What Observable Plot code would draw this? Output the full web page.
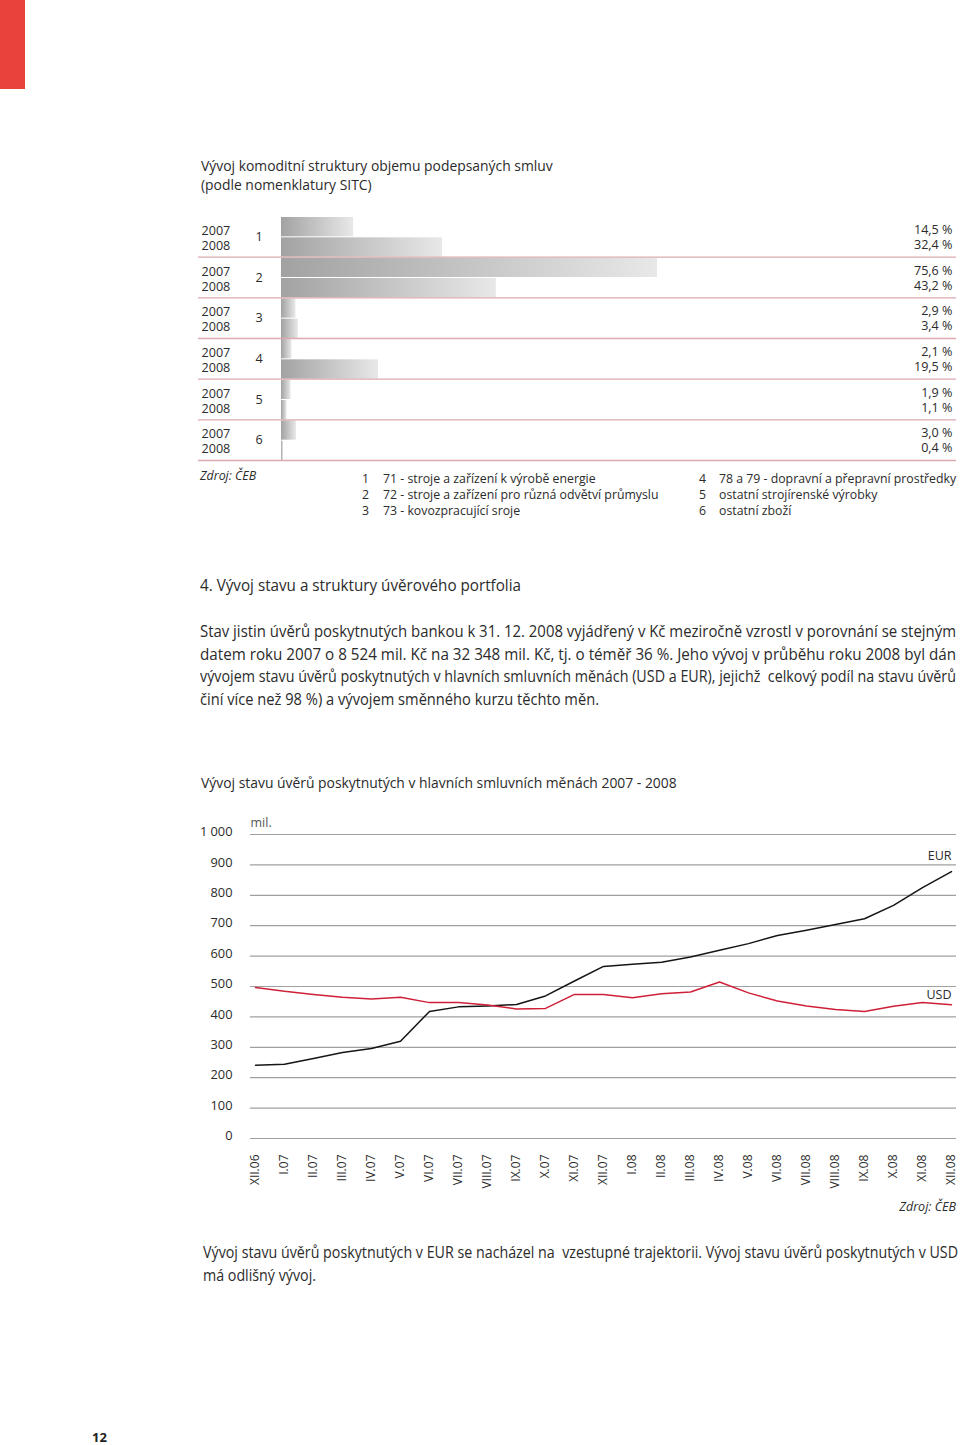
<!DOCTYPE html>
<html><head><meta charset="utf-8">
<script src="https://cdn.jsdelivr.net/npm/d3@7"></script>
<script src="https://cdn.jsdelivr.net/npm/@observablehq/plot@0.6"></script>
<style>
body{margin:0;background:#fff;font-family:"Open Sans",sans-serif;color:#2b2b2b;}
#page{position:relative;width:960px;height:1445px;overflow:hidden;background:#fff;}
.abs{position:absolute;white-space:nowrap;}
.fit{position:absolute;white-space:nowrap;transform-origin:0 50%;}
#red{position:absolute;left:0;top:0;width:25px;height:89px;background:#e8423a;}
</style></head><body><div id="page">
<div id="red"></div>
<div class="abs" style="left:201px;top:156px;font-size:13.9px;line-height:19px;">Vývoj komoditní struktury objemu podepsaných smluv<br>(podle nomenklatury SITC)</div>
<div id="chart1"></div>
<div class="abs" style="left:201px;top:773px;font-size:13.9px;line-height:20px;">Vývoj stavu úvěrů poskytnutých v hlavních smluvních měnách 2007 - 2008</div>
<div id="chart2"></div>
<div class="abs" style="right:4px;top:1198px;font-size:12.5px;line-height:18px;font-style:italic;">Zdroj: ČEB</div>
<div class="abs" style="left:92px;top:1429px;font-size:13px;line-height:16px;font-weight:bold;color:#222;">12</div>
</div>
<script>
// ---------- data: chart 1 ----------
const groups = ["1", "2", "3", "4", "5", "6"];
const years = ["2007", "2008"];
const share2007 = [14.5, 75.6, 2.9, 2.1, 1.9, 3.0];
const share2008 = [32.4, 43.2, 3.4, 19.5, 1.1, 0.4];
const legendItems = [
  "71 - stroje a zařízení k výrobě energie",
  "72 - stroje a zařízení pro různá odvětví průmyslu",
  "73 - kovozpracující sroje",
  "78 a 79 - dopravní a přepravní prostředky",
  "ostatní strojírenské výrobky",
  "ostatní zboží"
];
// ---------- data: chart 2 ----------
const months = ["XII.06","I.07","II.07","III.07","IV.07","V.07","VI.07","VII.07","VIII.07","IX.07","X.07","XI.07","XII.07",
  "I.08","II.08","III.08","IV.08","V.08","VI.08","VII.08","VIII.08","IX.08","X.08","XI.08","XII.08"];
const eur = [241,244,263,283,296,320,418,433,436,441,469,518,566,573,580,597,619,641,668,685,704,723,767,825,878];
const usd = [497,484,474,465,459,465,447,447,439,426,428,474,474,463,476,482,515,479,452,436,424,418,435,447,440];
const yTicks = [0,100,200,300,400,500,600,700,800,900,1000];
// ---------- text ----------
const heading = "4. Vývoj stavu a struktury úvěrového portfolia";
const para1Lines = [
  "Stav jistin úvěrů poskytnutých bankou k 31. 12. 2008 vyjádřený v Kč meziročně vzrostl v porovnání se stejným",
  "datem roku 2007 o 8 524 mil. Kč na 32 348 mil. Kč, tj. o téměř 36 %. Jeho vývoj v průběhu roku 2008 byl dán",
  "vývojem stavu úvěrů poskytnutých v hlavních smluvních měnách (USD a EUR), jejichž  celkový podíl na stavu úvěrů",
  "činí více než 98 %) a vývojem směnného kurzu těchto měn."
];
const para2Lines = [
  "Vývoj stavu úvěrů poskytnutých v EUR se nacházel na  vzestupné trajektorii. Vývoj stavu úvěrů poskytnutých v USD",
  "má odlišný vývoj."
];

const FONT = '"Open Sans", sans-serif';
const TXT = "#2b2b2b";
const page = document.getElementById("page");

// condensed-looking text: draw at natural size, then squeeze horizontally to the target width
function fitText(text, left, top, lh, fs, targetW) {
  const d = document.createElement("div");
  d.className = "fit";
  d.style.left = left + "px";
  d.style.top = top + "px";
  d.style.fontSize = fs + "px";
  d.style.lineHeight = lh + "px";
  d.style.whiteSpace = "pre";
  d.textContent = text;
  page.appendChild(d);
  const w = d.getBoundingClientRect().width;
  d.style.transform = `scaleX(${targetW / w})`;
}
fitText(heading, 200, 574, 22, 16.5, 321);
const p1W = [756, 756, 756, 399];
para1Lines.forEach((t, i) => fitText(t, 200, 620 + i * 22.7, 22.7, 16.3, p1W[i]));
const p2W = [755, 113];
para2Lines.forEach((t, i) => fitText(t, 203, 1241 + i * 23, 23, 16.3, p2W[i]));

// legend
const colX = [[362, 383], [699, 719]];
legendItems.forEach((t, i) => {
  const col = Math.floor(i / 3), row = i % 3;
  const top = 471 + row * 16;
  const n = document.createElement("div");
  n.className = "abs"; n.style.cssText += `left:${colX[col][0]}px;top:${top}px;font-size:12.3px;line-height:16px;`;
  n.textContent = groups[i];
  const s = document.createElement("div");
  s.className = "abs"; s.style.cssText += `left:${colX[col][1]}px;top:${top}px;font-size:12.3px;line-height:16px;`;
  s.textContent = t;
  page.appendChild(n); page.appendChild(s);
});
const src1 = document.createElement("div");
src1.className = "abs";
src1.style.cssText += "left:200px;top:468px;font-size:12.4px;line-height:16px;font-style:italic;";
src1.textContent = "Zdroj: ČEB";
page.appendChild(src1);

// ---------- chart 1 ----------
const rows = [];
groups.forEach((g, i) => {
  rows.push({group: g, year: years[0], value: share2007[i], r: 2 * i, off: -7});
  rows.push({group: g, year: years[1], value: share2008[i], r: 2 * i + 1, off: 8});
});
const fmtPct = v => v.toFixed(1).replace(".", ",") + " %";

const gradDefs = () => {
  const ns = "http://www.w3.org/2000/svg";
  const defs = document.createElementNS(ns, "defs");
  const g = document.createElementNS(ns, "linearGradient");
  g.setAttribute("id", "barGrad");
  g.setAttribute("x1", "0"); g.setAttribute("x2", "1"); g.setAttribute("y1", "0"); g.setAttribute("y2", "0");
  [["0%", "#a2a2a2"], ["100%", "#e8e8e8"]].forEach(([o, c]) => {
    const s = document.createElementNS(ns, "stop");
    s.setAttribute("offset", o); s.setAttribute("stop-color", c);
    g.appendChild(s);
  });
  defs.appendChild(g);
  return defs;
};

const labelStyle = {frameAnchor: "left", textAnchor: "start", fill: TXT};
const chart1 = Plot.plot({
  width: 960, height: 260,
  marginLeft: 198, marginRight: 4, marginTop: 0, marginBottom: 0,
  x: {domain: [0, 75.6], range: [281, 657], axis: null},
  y: {domain: [0, 12], range: [8, 252], axis: null},
  style: {fontFamily: FONT, fontSize: "12.6px", color: TXT, background: "transparent", overflow: "visible"},
  marks: [
    gradDefs,
    Plot.rect(rows, {x1: 0, x2: "value", y1: "r", y2: d => d.r + 1, insetTop: 1, fill: "url(#barGrad)"}),
    Plot.ruleY(groups.map((g, i) => 2 * (i + 1)), {stroke: "#dcaaae", strokeWidth: 1.3}),
    ...rows.map(d => Plot.text([d], {y: d => 2 * Math.floor(d.r / 2) + 1, text: "year", dx: 3, dy: d.off + 1, ...labelStyle})),
    Plot.text(groups, {y: (g, i) => 2 * i + 1, text: d => d, dx: 57, ...labelStyle}),
    ...rows.map(d => Plot.text([d], {y: d => 2 * Math.floor(d.r / 2) + 1, text: d => fmtPct(d.value), frameAnchor: "right", textAnchor: "end", dx: -4, dy: d.off, fill: TXT}))
  ]
});
chart1.style.position = "absolute"; chart1.style.left = "0px"; chart1.style.top = "208px";
document.getElementById("chart1").appendChild(chart1);

// ---------- chart 2 ----------
const eurRows = months.map((m, i) => ({month: m, value: eur[i]}));
const usdRows = months.map((m, i) => ({month: m, value: usd[i]}));
const fmtY = d => d >= 1000 ? d3.format(",")(d).replace(",", " ") : String(d);

const chart2 = Plot.plot({
  width: 960, height: 400,
  marginTop: 34, marginBottom: 62, marginLeft: 250, marginRight: 4,
  x: {type: "point", domain: months, padding: 0},
  y: {domain: [0, 1000]},
  style: {fontFamily: FONT, fontSize: "12.5px", color: TXT, background: "transparent", overflow: "visible"},
  marks: [
    Plot.ruleY(yTicks, {stroke: "#a0a0a0", strokeWidth: 1.2}),
    Plot.axisY({ticks: yTicks, tickSize: 0, tickPadding: 18, tickFormat: fmtY, label: null, dy: -2.5, fontSize: 12.8}),
    Plot.axisX({tickRotate: -90, tickSize: 0, tickPadding: 16, label: null, fontSize: 12}),
    Plot.line(eurRows, {x: "month", y: "value", stroke: "#151515", strokeWidth: 1.5}),
    Plot.line(usdRows, {x: "month", y: "value", stroke: "#cf2038", strokeWidth: 1.5}),
    Plot.text(eurRows.slice(-1), {x: "month", y: "value", text: () => "EUR", textAnchor: "end", dy: -16, fill: TXT}),
    Plot.text(usdRows.slice(-1), {x: "month", y: "value", text: () => "USD", textAnchor: "end", dy: -10, fill: TXT}),
    Plot.text(["mil."], {text: d => d, frameAnchor: "top-left", textAnchor: "start", dy: -16, fill: "#555"})
  ]
});
chart2.style.position = "absolute"; chart2.style.left = "0px"; chart2.style.top = "800px";
document.getElementById("chart2").appendChild(chart2);
</script>
</body></html>
